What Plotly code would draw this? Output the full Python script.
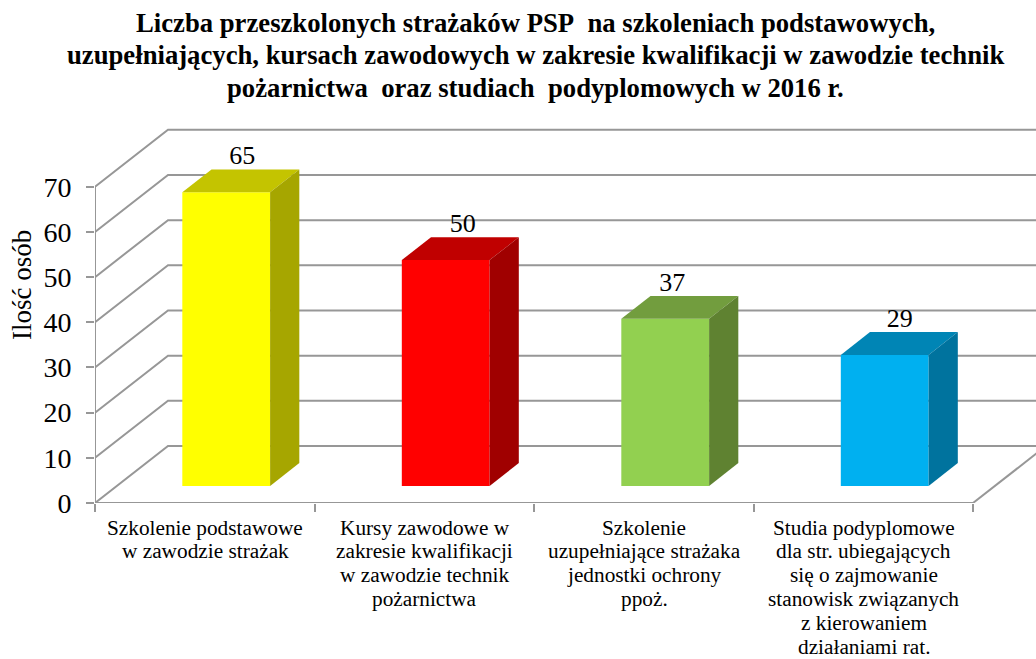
import plotly.graph_objects as go

# --- data ---
categories = [
    ["Szkolenie podstawowe", "w zawodzie strażak"],
    ["Kursy zawodowe w", "zakresie kwalifikacji", "w zawodzie technik", "pożarnictwa"],
    ["Szkolenie", "uzupełniające strażaka", "jednostki ochrony", "ppoż."],
    ["Studia podyplomowe", "dla str. ubiegających", "się o zajmowanie", "stanowisk związanych", "z kierowaniem", "działaniami rat."],
]
values = [65, 50, 37, 29]
label_x_nudge = [0.005, 0.009, -0.036, 0.0]
y_ticks = [0, 10, 20, 30, 40, 50, 60, 70]
front_colors = ["#FFFF00", "#FF0000", "#92D050", "#00B0F0"]
top_colors = ["#C4C400", "#C00000", "#729D3E", "#0085B5"]
side_colors = ["#A6A600", "#A00000", "#5F8231", "#00739E"]
title_lines = [
    "Liczba przeszkolonych strażaków PSP  na szkoleniach podstawowych,",
    "uzupełniających, kursach zawodowych w zakresie kwalifikacji w zawodzie technik",
    "pożarnictwa  oraz studiach  podyplomowych w 2016 r.",
]
y_title = "Ilość osób"

# --- oblique projection settings ---
W, H = 1036, 659
PL, PB, PT = 95, 156, 122       # plot area margins
SLOT_PX, UNIT_PX = 219.5, 4.517  # px per category, px per value unit
DX, DY = 73 / SLOT_PX, 57 / UNIT_PX  # shift of the back wall, in data units
X_MAX = (W - PL) / SLOT_PX
Y_MAX = (H - PB - PT) / UNIT_PX
GRID = "#979797"
FONT = "Liberation Serif"


def proj(x, v, d):
    return x + d * DX, v + d * DY


fig = go.Figure()


def wall_line(xs, ys):
    fig.add_trace(go.Scatter(x=xs, y=ys, mode="lines", line=dict(color=GRID, width=2),
                             hoverinfo="skip", showlegend=False))


n = len(values)
for t in y_ticks:
    bx, by = proj(0, t, 1)
    ex, _ = proj(n, t, 1)
    wall_line([0, bx, ex], [t, by, by])
wall_line([0, 0], [0, y_ticks[-1]])
wall_line([0, n], [0, 0])
rx, ry = proj(n, 0, 1)
wall_line([n, rx], [0, ry])

D0, D1, G0, G1 = 0.3, 0.7, 0.298, 0.698
fx0, fb = proj(0, 0, D0)
fig.add_trace(go.Bar(
    x=[i + (G0 + G1) / 2 + D0 * DX for i in range(n)],
    y=values, base=[fb] * n, width=[G1 - G0] * n,
    marker=dict(color=front_colors, line=dict(width=0)),
    xaxis="x2", yaxis="y2", hoverinfo="skip", showlegend=False,
))


def poly(pts, color):
    fig.add_trace(go.Scatter(
        x=[p[0] for p in pts] + [pts[0][0]], y=[p[1] for p in pts] + [pts[0][1]],
        mode="lines", fill="toself", fillcolor=color, line=dict(width=0),
        xaxis="x2", yaxis="y2", hoverinfo="skip", showlegend=False,
    ))


for i, v in enumerate(values):
    xl, xr = i + G0, i + G1
    poly([proj(xl, v, D0), proj(xr, v, D0), proj(xr, v, D1), proj(xl, v, D1)], top_colors[i])
    poly([proj(xr, 0, D0), proj(xr, 0, D1), proj(xr, v, D1), proj(xr, v, D0)], side_colors[i])

lx, ly = zip(*[proj(i + 0.5 + label_x_nudge[i], v, 0.5) for i, v in enumerate(values)])
fig.add_trace(go.Scatter(
    x=list(lx), y=[yy + 2.2 for yy in ly], mode="text", text=[str(v) for v in values],
    textposition="top center", textfont=dict(family=FONT, size=26, color="#000000"),
    xaxis="x2", yaxis="y2", hoverinfo="skip", showlegend=False, cliponaxis=False,
))

ann = []
for i, lines in enumerate(categories):
    for j, line in enumerate(lines):
        ann.append(dict(x=i + 0.5, xref="x", y=0, yref="paper", yshift=-(24.5 + 23.9 * j),
                        text=line, showarrow=False, xanchor="center", yanchor="middle",
                        xshift=0.5, font=dict(family=FONT, size=21.3, color="#000000")))
plot_h = H - PT - PB
plot_w = W - PL
for j, line in enumerate(title_lines):
    ann.append(dict(x=(535 - PL) / plot_w, xref="paper",
                    y=(H - PB - (23 + 32.5 * j)) / plot_h, yref="paper",
                    text="<b>" + line.replace("  ", "\u00a0 ") + "</b>", showarrow=False,
                    xanchor="center", yanchor="middle",
                    font=dict(family=FONT, size=26.7, color="#000000")))
ann.append(dict(x=(22 - PL) / plot_w, xref="paper", y=(H - PB - 285) / plot_h, yref="paper",
                text=y_title, textangle=-90, showarrow=False, xanchor="center", yanchor="middle",
                font=dict(family=FONT, size=27, color="#000000")))

fig.update_layout(
    width=W, height=H, autosize=False,
    margin=dict(l=PL, r=0, t=PT, b=PB, pad=0),
    paper_bgcolor="white", plot_bgcolor="white",
    showlegend=False, annotations=ann,
    xaxis=dict(range=[0, X_MAX], tickmode="array", tickvals=list(range(n + 1)),
               ticktext=[""] * (n + 1), ticks="outside", ticklen=8, tickwidth=2, tickcolor=GRID,
               showgrid=False, zeroline=False, showline=False, fixedrange=True),
    yaxis=dict(range=[0, Y_MAX], tickmode="array", tickvals=y_ticks, ticks="outside",
               ticklen=8, tickwidth=2, tickcolor=GRID, showgrid=False, zeroline=False, showline=False,
               tickfont=dict(family=FONT, size=28, color="#000000"), ticklabelstandoff=9,
               fixedrange=True),
    xaxis2=dict(range=[0, X_MAX], overlaying="x", visible=False, fixedrange=True),
    yaxis2=dict(range=[0, Y_MAX], overlaying="y", visible=False, fixedrange=True),
)
fig.write_html("out.html", config={"displayModeBar": False},
               post_script='document.body.style.margin="0";window.dispatchEvent(new Event("resize"));')
